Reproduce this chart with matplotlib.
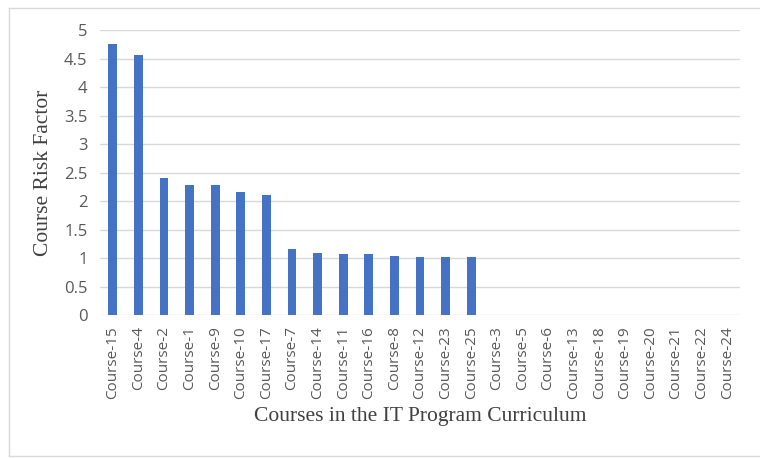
import matplotlib.pyplot as plt
from matplotlib.lines import Line2D

courses = ["Course-15", "Course-4", "Course-2", "Course-1", "Course-9", "Course-10",
           "Course-17", "Course-7", "Course-14", "Course-11", "Course-16", "Course-8",
           "Course-12", "Course-23", "Course-25", "Course-3", "Course-5", "Course-6",
           "Course-13", "Course-18", "Course-19", "Course-20", "Course-21", "Course-22",
           "Course-24"]
risk = [4.75, 4.56, 2.41, 2.28, 2.28, 2.15, 2.10, 1.15, 1.09, 1.07, 1.07, 1.04,
        1.02, 1.02, 1.02, 0, 0, 0, 0, 0, 0, 0, 0, 0, 0]
yticks = [0, 0.5, 1, 1.5, 2, 2.5, 3, 3.5, 4, 4.5, 5]
ytick_labels = ["0", "0.5", "1", "1.5", "2", "2.5", "3", "3.5", "4", "4.5", "5"]

fig = plt.figure(figsize=(7.6, 4.58), dpi=100)
ax = fig.add_axes([0.1316, 0.3122, 0.8421, 0.6223])

x = range(len(courses))
ax.bar(x, risk, width=0.34, color="#4472C4", zorder=3)

ax.set_xlim(-0.5, len(courses) - 0.5)
ax.set_ylim(0, 5)
ax.set_yticks(yticks)
ax.set_yticklabels(ytick_labels)
ax.set_xticks(list(x))
ax.set_xticklabels(courses, rotation=90)
ax.tick_params(axis="both", length=0, colors="#595959", labelsize=11)
ax.tick_params(axis="y", pad=9, labelsize=12)
ax.tick_params(axis="x", pad=8)
for lab in ax.get_xticklabels() + ax.get_yticklabels():
    lab.set_fontfamily("Open Sans")

ax.grid(axis="y", color="#d9d9d9", linewidth=1, zorder=0)
for s in ax.spines.values():
    s.set_visible(False)

ax.set_ylabel("Course Risk Factor", family="Liberation Serif", fontsize=15.5,
              color="#404040", labelpad=8)
ax.set_xlabel("Courses in the IT Program Curriculum", family="Liberation Serif",
              fontsize=15.5, color="#404040", labelpad=6)

# light frame around the chart area
frame_color = "#d9d9d9"
fig.add_artist(Line2D([9 / 760, 9 / 760], [1 - 456 / 458, 1 - 8 / 458],
                      transform=fig.transFigure, color=frame_color, lw=1))
fig.add_artist(Line2D([9 / 760, 1], [1 - 8 / 458, 1 - 8 / 458],
                      transform=fig.transFigure, color=frame_color, lw=1))
fig.add_artist(Line2D([9 / 760, 1], [1 - 456 / 458, 1 - 456 / 458],
                      transform=fig.transFigure, color=frame_color, lw=1))

fig.savefig("out.png", dpi=100)
